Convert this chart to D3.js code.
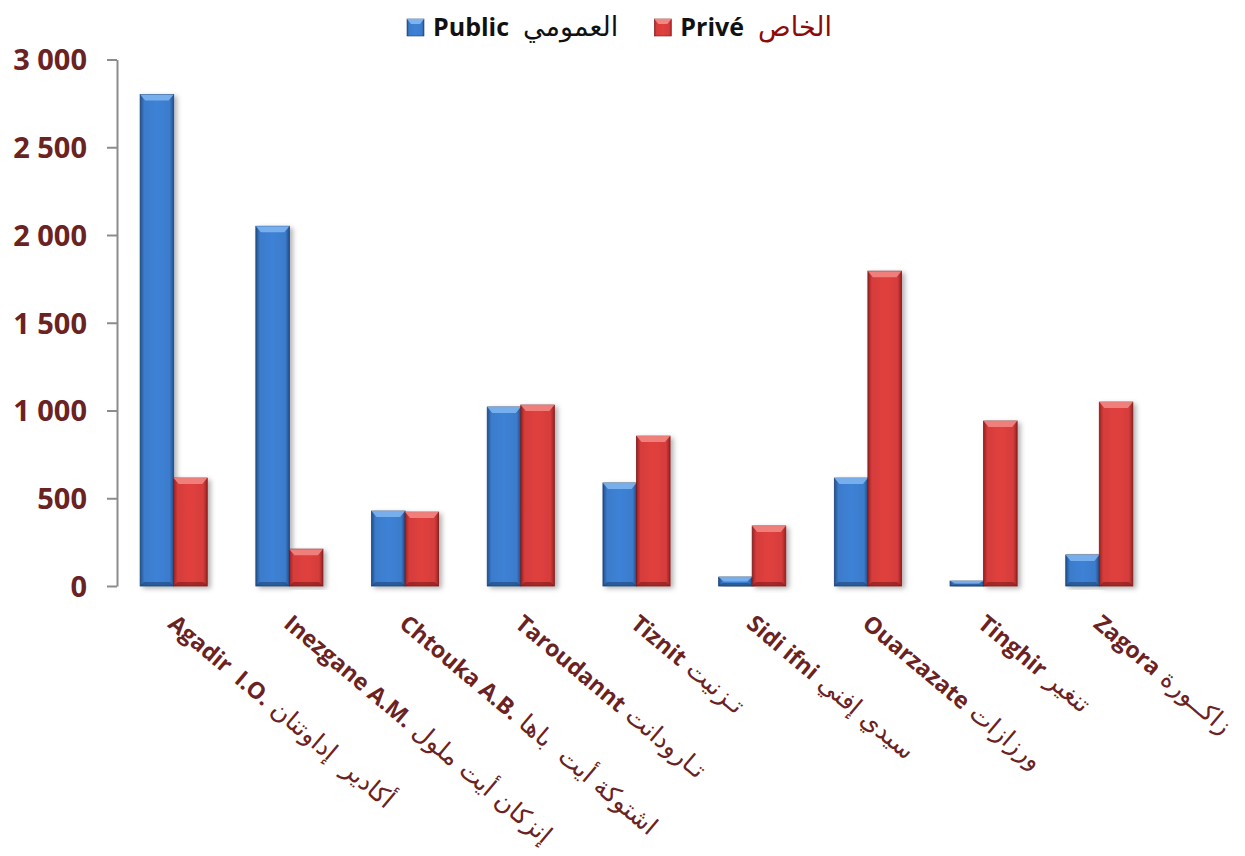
<!DOCTYPE html>
<html>
<head>
<meta charset="utf-8">
<script src="https://cdn.jsdelivr.net/npm/d3@7"></script>
<style>
  body { margin: 0; background: #fff; }
  text { font-family: "Open Sans", "DejaVu Sans", sans-serif; white-space: pre; }
</style>
</head>
<body>
<div id="chart"></div>
<script>
// data
var latinNames = ["Agadir  I.O.", "Inezgane A.M.", "Chtouka A.B.", "Taroudannt", "Tiznit",
                  "Sidi ifni", "Ouarzazate", "Tinghir", "Zagora"];
var arabicNames = ["أكادير  إداوتنان", "إنزكان أيت ملول", "اشتوكة أيت  باها", "تـارودانت", "تـزنيت",
                   "سيدي إفني", "ورزازات", "تنغير", "زاكــورة"];
var publicVals = [2800, 2050, 427, 1020, 587, 51, 615, 28, 177];
var priveVals  = [615, 210, 421, 1031, 854, 342, 1794, 940, 1048];
var yTicks = [0, 500, 1000, 1500, 2000, 2500, 3000];

var W = 1245, H = 856;
var labelColor = "#6b2222";

var svg = d3.select("#chart").append("svg")
    .attr("width", W)
    .attr("height", H);

var defs = svg.append("defs");

// bar colours
var palette = {
  pub: {edge: "#224f8c", body: "#3b7bcb", light: "#7db4ef", dark: "#1d4577"},
  pri: {edge: "#9c2121", body: "#d53d3b", light: "#f28683", dark: "#7f1a1a"}
};

Object.keys(palette).forEach(function(k) {
  var p = palette[k];
  var g = defs.append("linearGradient").attr("id", "grad-" + k)
      .attr("x1", 0).attr("x2", 1).attr("y1", 0).attr("y2", 0);
  g.append("stop").attr("offset", "0%").attr("stop-color", p.edge);
  g.append("stop").attr("offset", "12%").attr("stop-color", p.body);
  g.append("stop").attr("offset", "50%").attr("stop-color", d3.color(p.body).brighter(0.15));
  g.append("stop").attr("offset", "88%").attr("stop-color", p.body);
  g.append("stop").attr("offset", "100%").attr("stop-color", p.edge);
});

var shadow = defs.append("filter").attr("id", "shadow")
    .attr("x", "-20%").attr("y", "-5%").attr("width", "150%").attr("height", "115%");
shadow.append("feDropShadow")
    .attr("dx", 3).attr("dy", 2).attr("stdDeviation", 2.5)
    .attr("flood-color", "#000").attr("flood-opacity", 0.3);

// scales
var x = d3.scaleBand()
    .domain(latinNames)
    .range([117, 1156])
    .paddingInner(0.42)
    .paddingOuter(0.2);

var x1 = d3.scaleBand()
    .domain(["pub", "pri"])
    .range([0, x.bandwidth()]);

var y = d3.scaleLinear()
    .domain([0, 3000])
    .range([586, 59.5]);

var fmt = d3.formatLocale({decimal: ",", thousands: " ", grouping: [3], currency: ["", ""]}).format(",");

// y axis
var yAxis = svg.append("g")
    .attr("transform", "translate(117,0)")
    .call(d3.axisLeft(y).tickValues(yTicks).tickFormat(fmt).tickSize(10).tickSizeOuter(0).tickPadding(20));

yAxis.select(".domain").attr("stroke", "#8c8c8c").attr("stroke-width", 2);
yAxis.selectAll(".tick line").attr("stroke", "#8c8c8c").attr("stroke-width", 2);
yAxis.selectAll(".tick text")
    .attr("fill", labelColor)
    .style("font-size", "29px")
    .style("font-weight", 700)
    .attr("dy", "0.36em");

// bars
var rows = latinNames.map(function(n, i) {
  return {name: n, vals: [{key: "pub", v: publicVals[i]}, {key: "pri", v: priveVals[i]}]};
});

var groups = svg.selectAll(".grp")
    .data(rows)
    .enter().append("g")
    .attr("class", "grp")
    .attr("transform", function(d) { return "translate(" + x(d.name) + ",0)"; });

var bars = groups.selectAll(".bar")
    .data(function(d) { return d.vals; })
    .enter().append("g")
    .attr("class", "bar")
    .attr("filter", "url(#shadow)");

bars.append("rect")
    .attr("x", function(d) { return x1(d.key); })
    .attr("y", function(d) { return y(d.v); })
    .attr("width", x1.bandwidth())
    .attr("height", function(d) { return y(0) - y(d.v); })
    .attr("fill", function(d) { return "url(#grad-" + d.key + ")"; })
    .attr("stroke", function(d) { return palette[d.key].dark; })
    .attr("stroke-width", 0.8);

// top bevel
bars.append("path")
    .attr("d", function(d) {
      var x0 = x1(d.key), w = x1.bandwidth(), t = y(d.v);
      var b = Math.min(6, (y(0) - t) / 2);
      return "M" + x0 + "," + t + "L" + (x0 + w) + "," + t +
             "L" + (x0 + w - 5) + "," + (t + b) + "L" + (x0 + 5) + "," + (t + b) + "Z";
    })
    .attr("fill", function(d) { return palette[d.key].light; })
    .attr("opacity", 0.9);

// bottom bevel
bars.append("path")
    .attr("d", function(d) {
      var x0 = x1(d.key), w = x1.bandwidth(), bt = y(0);
      var b = Math.min(4, (y(0) - y(d.v)) / 3);
      return "M" + x0 + "," + bt + "L" + (x0 + w) + "," + bt +
             "L" + (x0 + w - 4) + "," + (bt - b) + "L" + (x0 + 4) + "," + (bt - b) + "Z";
    })
    .attr("fill", function(d) { return palette[d.key].dark; })
    .attr("opacity", 0.6);

// category labels, rotated
var labels = svg.selectAll(".xlab")
    .data(latinNames)
    .enter().append("text")
    .attr("class", "xlab")
    .attr("transform", function(d) {
      return "translate(" + (x(d) + x.bandwidth() / 2 - 7) + ",626) rotate(40)";
    })
    .attr("fill", labelColor);

labels.append("tspan")
    .style("font-size", "23px")
    .style("font-weight", 700)
    .text(function(d) { return d; });

labels.append("tspan")
    .style("font-size", "25px")
    .style("font-family", "'DejaVu Sans', sans-serif")
    .text(function(d, i) { return " " + arabicNames[i]; });

// legend
var legend = svg.append("g").attr("class", "legend");
var legendItems = [
  {key: "pub", latin: "Public", arabic: "العمومي", arColor: "#111"},
  {key: "pri", latin: "Privé", arabic: "الخاص", arColor: "#8b0a0a"}
];
var lx = 407;
legendItems.forEach(function(it) {
  legend.append("rect")
      .attr("x", lx).attr("y", 19)
      .attr("width", 17).attr("height", 17)
      .attr("fill", "url(#grad-" + it.key + ")")
      .attr("stroke", palette[it.key].dark).attr("stroke-width", 0.6);
  legend.append("path")
      .attr("d", "M" + lx + ",19L" + (lx + 17) + ",19L" + (lx + 13) + ",24L" + (lx + 4) + ",24Z")
      .attr("fill", palette[it.key].light);
  var t1 = legend.append("text")
      .attr("x", lx + 26).attr("y", 36)
      .attr("fill", "#111")
      .style("font-size", "25px").style("font-weight", 700)
      .text(it.latin);
  var w1 = t1.node().getComputedTextLength();
  var t2 = legend.append("text")
      .attr("x", lx + 26 + w1 + 14).attr("y", 36)
      .attr("fill", it.arColor)
      .style("font-size", "27px")
      .style("font-family", "'DejaVu Sans', sans-serif")
      .text(it.arabic);
  lx = lx + 26 + w1 + 14 + t2.node().getComputedTextLength() + 36;
});
</script>
</body>
</html>
